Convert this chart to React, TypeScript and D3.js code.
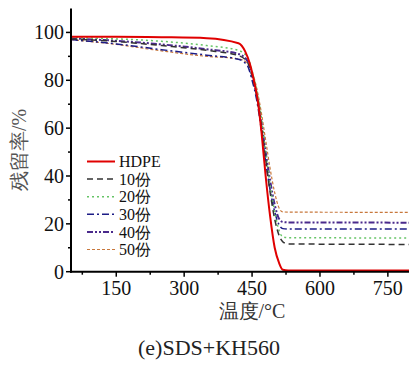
import React from "react";
import * as d3 from "d3";

const temps = [50, 150, 250, 350, 420, 435, 445, 455, 463, 471, 480, 490, 500, 510, 518, 530, 800];
const hdpe = [98.2, 98.2, 98.0, 97.6, 95.5, 92, 87, 79, 71, 58, 40, 23, 10, 3.5, 0.8, 0.5, 0.5];

const temps2 = [50, 150, 250, 350, 420, 440, 450, 460, 470, 480, 490, 500, 510, 518, 530, 800];
const s10 = [97.3, 96.2, 94.5, 92.5, 90.3, 87.5, 82, 74, 62, 47, 33, 22, 15, 12.5, 11.6, 11.4];
const s20 = [97.8, 97.3, 96.3, 94.5, 92.5, 89.5, 84, 76, 65, 50, 36, 25, 17, 14.6, 14.2, 14.1];
const s30 = [97.0, 95.2, 92.8, 90.5, 88.8, 86, 80, 72, 60, 46, 34, 25, 19.5, 18, 17.8, 17.8];
const s40 = [97.5, 96.5, 95.0, 93.0, 91.0, 88, 82, 74, 63, 50, 38, 28, 22, 20.8, 20.6, 20.5];
const s50 = [97.0, 95.0, 92.3, 90.0, 89.0, 87, 83.5, 77, 67, 55, 43, 33, 26.5, 25, 24.9, 24.8];

const seriesNames = ["HDPE", "10份", "20份", "30份", "40份", "50份"];
const xTicks = [150, 300, 450, 600, 750];
const xMinor = [75, 225, 375, 525, 675];
const yTicks = [0, 20, 40, 60, 80, 100];
const yMinor = [10, 30, 50, 70, 90];

const styles = [
  { color: "#e00000", width: 2, dash: "" },
  { color: "#333333", width: 1.5, dash: "6,4" },
  { color: "#66c466", width: 1.5, dash: "2,3" },
  { color: "#1c1c86", width: 1.5, dash: "7,3,2,3" },
  { color: "#4a2a8c", width: 2, dash: "6,2,2,2,2,2" },
  { color: "#c8783c", width: 1.2, dash: "3,2" },
];

export default function App() {
  const W = 409, H = 365;
  const x = d3.scaleLinear().domain([50, 800]).range([71, 410.5]);
  const y = d3.scaleLinear().domain([0, 110]).range([271.7, 8.5]);
  const line = d3.line<[number, number]>().x(d => x(d[0])).y(d => y(d[1])).curve(d3.curveMonotoneX);
  const data: [number, number][][] = [
    temps.map((t, i) => [t, hdpe[i]]),
    temps2.map((t, i) => [t, s10[i]]),
    temps2.map((t, i) => [t, s20[i]]),
    temps2.map((t, i) => [t, s30[i]]),
    temps2.map((t, i) => [t, s40[i]]),
    temps2.map((t, i) => [t, s50[i]]),
  ];
  const order = [5, 4, 3, 2, 1, 0];
  const font = "'Liberation Serif', 'Times New Roman', serif";
  const cjk = "'Noto Serif CJK SC', 'Noto Sans CJK SC', serif";
  return (
    <svg width={W} height={H} style={{ position: "absolute", left: 0, top: 0, background: "#fff" }}>
      <defs>
        <clipPath id="clip"><rect x={71} y={0} width={340} height={272} /></clipPath>
      </defs>
      <g clipPath="url(#clip)">
        {order.map(i => (
          <path key={i} d={line(data[i]) || ""} fill="none" stroke={styles[i].color}
            strokeWidth={styles[i].width} strokeDasharray={styles[i].dash} />
        ))}
      </g>
      {/* axes */}
      <line x1={71} x2={71} y1={y(110)} y2={y(0) + 1} stroke="#000" strokeWidth={2} />
      <line x1={70} x2={W} y1={y(0)} y2={y(0)} stroke="#000" strokeWidth={2} />
      {yTicks.map(v => (
        <g key={v}>
          <line x1={66} x2={71} y1={y(v)} y2={y(v)} stroke="#000" strokeWidth={1.5} />
          <text x={64} y={y(v)} dy="0.34em" textAnchor="end" fontFamily={font} fontSize={20} fill="#111">{v}</text>
        </g>
      ))}
      {yMinor.map(v => (
        <line key={v} x1={68} x2={71} y1={y(v)} y2={y(v)} stroke="#000" strokeWidth={1.5} />
      ))}
      {xTicks.map(v => (
        <g key={v}>
          <line x1={x(v)} x2={x(v)} y1={y(0)} y2={y(0) + 5} stroke="#000" strokeWidth={1.5} />
          <text x={x(v)} y={295} textAnchor="middle" fontFamily={font} fontSize={20} fill="#111">{v}</text>
        </g>
      ))}
      {xMinor.map(v => (
        <line key={v} x1={x(v)} x2={x(v)} y1={y(0)} y2={y(0) + 3} stroke="#000" strokeWidth={1.5} />
      ))}
      {/* legend */}
      {seriesNames.map((n, i) => {
        const ly = 161.5 + 17.6 * i;
        return (
          <g key={n}>
            <line x1={87} x2={115} y1={ly} y2={ly} stroke={styles[i].color}
              strokeWidth={styles[i].width} strokeDasharray={styles[i].dash} />
            <text x={119} y={ly} dy="0.35em" fontFamily={font} fontSize={16} fill="#111">{n}</text>
          </g>
        );
      })}
      {/* axis titles */}
      <text transform="translate(26,150) rotate(-90)" textAnchor="middle" fontFamily={font} fontSize={20} fill="#555">
        残留率/%
      </text>
      <text x={252} y={318} textAnchor="middle" fontFamily={font} fontSize={20} fill="#333">温度/°C</text>
      <text x={209} y={355} textAnchor="middle" fontFamily={font} fontSize={22} fill="#222">(e)SDS+KH560</text>
    </svg>
  );
}
